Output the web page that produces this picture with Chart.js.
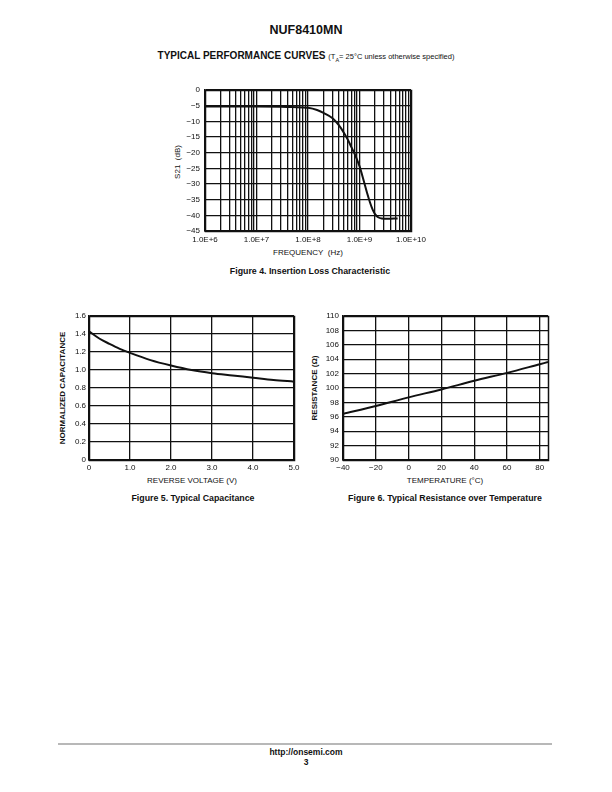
<!DOCTYPE html>
<html>
<head>
<meta charset="utf-8">
<script src="https://cdn.jsdelivr.net/npm/chart.js@4.4.1/dist/chart.umd.min.js"></script>
<style>
  html, body { margin: 0; padding: 0; background: #fff; }
  body { width: 612px; height: 792px; position: relative; overflow: hidden; font-family: "Liberation Sans", Arial, sans-serif; color: #111; }
  .t { position: absolute; transform: translate(-50%, -50%); white-space: nowrap; line-height: 1; }
  .rot { transform: translate(-50%, -50%) rotate(-90deg); }
  .b { font-weight: bold; }
  canvas { position: absolute; }
</style>
</head>
<body>
<div class="t b" style="left:306px;top:30px;font-size:12.5px;">NUF8410MN</div>
<div class="t b" style="left:306px;top:57px;font-size:10px;">TYPICAL PERFORMANCE CURVES <span style="font-weight:normal;font-size:7.5px;">(T<sub style="font-size:5.5px;">A</sub>= 25°C unless otherwise specified)</span></div>

<div class="t rot" style="left:178px;top:162px;font-size:8px;">S21&nbsp; (dB)</div>
<div class="t" style="left:308px;top:253px;font-size:8px;">FREQUENCY&nbsp; (Hz)</div>
<div class="t b" style="left:310px;top:271px;font-size:8.8px;">Figure 4. Insertion Loss Characteristic</div>

<div class="t rot b" style="left:63px;top:388px;font-size:8px;">NORMALIZED CAPACITANCE</div>
<div class="t" style="left:192px;top:481px;font-size:8px;">REVERSE VOLTAGE (V)</div>
<div class="t b" style="left:193px;top:498px;font-size:8.8px;">Figure 5. Typical Capacitance</div>

<div class="t rot b" style="left:315px;top:388px;font-size:8px;">RESISTANCE (Ω)</div>
<div class="t" style="left:445px;top:481px;font-size:8px;">TEMPERATURE (°C)</div>
<div class="t b" style="left:445px;top:498px;font-size:8.8px;">Figure 6. Typical Resistance over Temperature</div>

<div style="position:absolute;left:58px;top:743px;width:494px;height:2px;background:#b8b8b8;"></div>
<div class="t b" style="left:306px;top:752px;font-size:8.5px;">http://onsemi.com</div>
<div class="t b" style="left:306px;top:762px;font-size:8.5px;">3</div>

<canvas id="c1" style="left:150px;top:80px;" width="285" height="175"></canvas>
<canvas id="c2" style="left:40px;top:305px;" width="270" height="175"></canvas>
<canvas id="c3" style="left:295px;top:305px;" width="270" height="175"></canvas>

<script>
// ---------- Figure 4: Insertion loss ----------
const freqHz = [1e6, 1e7, 3e7, 5e7, 1e8, 1.5e8, 2e8, 3e8, 4e8, 5e8, 6e8, 7e8, 8e8, 9e8, 1e9, 1.2e9, 1.4e9, 1.6e9, 1.8e9, 2e9, 2.3e9, 2.7e9, 3.5e9, 5.5e9];
const s21dB  = [-5.3, -5.3, -5.35, -5.45, -5.7, -6.4, -7.3, -9.0, -11.3, -13.7, -16.0, -18.3, -20.3, -22.3, -24.3, -28.8, -32.8, -35.9, -38.2, -39.6, -40.6, -41.0, -41.1, -41.0];
const freqDecades = [1e6, 1e7, 1e8, 1e9, 1e10];
const freqTickLabels = ['1.0E+6', '1.0E+7', '1.0E+8', '1.0E+9', '1.0E+10'];
const s21Ticks = [0, -5, -10, -15, -20, -25, -30, -35, -40, -45];
const s21TickLabels = ['0', '\u22125', '\u221210', '\u221215', '\u221220', '\u221225', '\u221230', '\u221235', '\u221240', '\u221245'];

// ---------- Figure 5: Capacitance ----------
const voltageV = [0, 0.25, 0.5, 0.75, 1.0, 1.5, 2.0, 2.5, 3.0, 3.5, 4.0, 4.5, 5.0];
const normCap  = [1.43, 1.35, 1.29, 1.235, 1.19, 1.11, 1.05, 1.0, 0.965, 0.94, 0.915, 0.89, 0.87];
const voltTicks = [0, 1, 2, 3, 4, 5];
const voltTickLabels = ['0', '1.0', '2.0', '3.0', '4.0', '5.0'];
const capTicks = [0, 0.2, 0.4, 0.6, 0.8, 1.0, 1.2, 1.4, 1.6];
const capTickLabels = ['0', '0.2', '0.4', '0.6', '0.8', '1.0', '1.2', '1.4', '1.6'];

// ---------- Figure 6: Resistance ----------
const tempC = [-40, -20, 0, 20, 40, 60, 80, 85];
const resOhm = [96.4, 97.5, 98.7, 99.8, 101.0, 102.1, 103.3, 103.6];
const tempTicks = [-40, -20, 0, 20, 40, 60, 80];
const tempTickLabels = ['\u221240', '\u221220', '0', '20', '40', '60', '80'];
const resTicks = [90, 92, 94, 96, 98, 100, 102, 104, 106, 108, 110];
const resTickLabels = ['90', '92', '94', '96', '98', '100', '102', '104', '106', '108', '110'];

const FONT = { family: '"Liberation Sans", Arial, sans-serif', size: 8 };
const INK = '#111';

const frame = {
  id: 'frame',
  afterDatasetsDraw(chart) {
    const a = chart.chartArea, ctx = chart.ctx;
    ctx.save();
    ctx.strokeStyle = INK;
    ctx.lineWidth = 1.5;
    ctx.strokeRect(Math.round(a.left) + 0.5, Math.round(a.top) + 0.5, Math.round(a.right - a.left), Math.round(a.bottom - a.top));
    ctx.restore();
  }
};

function pair(xs, ys) { return xs.map((x, i) => ({ x, y: ys[i] })); }
function labelFrom(vals, labels) {
  return function (v) {
    const i = vals.findIndex(t => Math.abs(t - v) < 1e-9 * Math.max(1, Math.abs(t)));
    return i >= 0 ? labels[i] : '';
  };
}
function fixedTicks(vals) {
  return function (scale) { scale.ticks = vals.map(v => ({ value: v })); };
}

function build(id, o) {
  new Chart(document.getElementById(id), {
    type: 'line',
    data: { datasets: [{ data: o.data, borderColor: INK, borderWidth: 2, pointRadius: 0, tension: 0.35, cubicInterpolationMode: 'monotone', fill: false }] },
    options: {
      responsive: false, animation: false, devicePixelRatio: 1,
      plugins: { legend: { display: false }, tooltip: { enabled: false } },
      layout: { padding: o.pad },
      scales: {
        x: {
          type: o.xType || 'linear', min: o.xMin, max: o.xMax,
          afterBuildTicks: fixedTicks(o.xTicks),
          afterFit(s) { s.height = o.xH; s.paddingLeft = 0; s.paddingRight = 0; },
          grid: { color: INK, lineWidth: 1.3, drawTicks: false },
          border: { color: INK, width: 1.5 },
          ticks: { autoSkip: false, maxRotation: 0, minRotation: 0, padding: o.xPad, color: INK, font: FONT, callback: labelFrom(o.xLabelVals, o.xLabels) }
        },
        y: {
          type: 'linear', min: o.yMin, max: o.yMax,
          afterBuildTicks: fixedTicks(o.yTicks),
          afterFit(s) { s.width = o.yW; s.paddingTop = 0; s.paddingBottom = 0; },
          grid: { color: INK, lineWidth: 1.3, drawTicks: false },
          border: { color: INK, width: 1.5 },
          ticks: { autoSkip: false, padding: o.yPad, color: INK, font: FONT, callback: labelFrom(o.yTicks, o.yLabels) }
        }
      }
    },
    plugins: [frame]
  });
}

// grid ticks for the log axis: 1..9 within each decade, plus the last decade
const logGrid = [];
freqDecades.slice(0, -1).forEach(d => { for (let m = 1; m <= 9; m++) logGrid.push(d * m); });
logGrid.push(freqDecades[freqDecades.length - 1]);

build('c1', {
  data: pair(freqHz, s21dB), xType: 'logarithmic', xMin: 1e6, xMax: 1e10,
  xTicks: logGrid, xLabelVals: freqDecades, xLabels: freqTickLabels,
  yMin: -45, yMax: 0, yTicks: s21Ticks, yLabels: s21TickLabels,
  pad: { left: 0, top: 10, right: 24, bottom: 0 }, yW: 55, xH: 175 - 10 - 141, xPad: 4, yPad: 5
});
build('c2', {
  data: pair(voltageV, normCap), xMin: 0, xMax: 5,
  xTicks: voltTicks, xLabelVals: voltTicks, xLabels: voltTickLabels,
  yMin: 0, yMax: 1.6, yTicks: capTicks, yLabels: capTickLabels,
  pad: { left: 0, top: 11, right: 16, bottom: 0 }, yW: 49, xH: 175 - 11 - 144, xPad: 3, yPad: 3
});
build('c3', {
  data: pair(tempC, resOhm), xMin: -40, xMax: 85,
  xTicks: tempTicks, xLabelVals: tempTicks, xLabels: tempTickLabels,
  yMin: 90, yMax: 110, yTicks: resTicks, yLabels: resTickLabels,
  pad: { left: 0, top: 11, right: 17, bottom: 0 }, yW: 48, xH: 175 - 11 - 144, xPad: 3, yPad: 4
});
</script>
</body>
</html>
